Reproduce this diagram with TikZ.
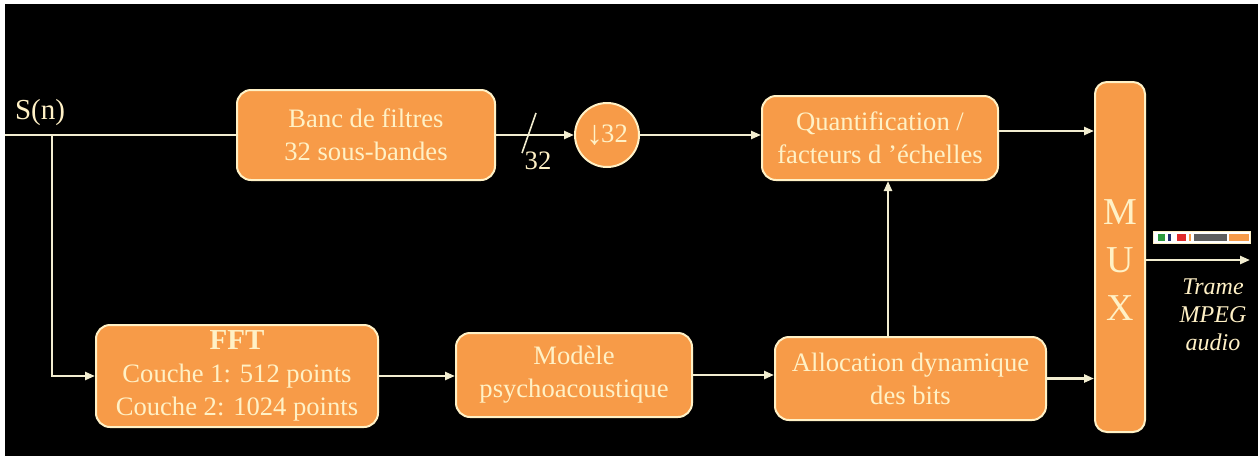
\documentclass[tikz,border=0pt]{standalone}
\usepackage{fontspec}
\setmainfont{Liberation Serif}
\usetikzlibrary{arrows.meta,calc}
\definecolor{boxor}{HTML}{F79B48}
\definecolor{cream}{HTML}{FFF1C6}
\definecolor{wline}{HTML}{F2EDD0}
\definecolor{bgreen}{HTML}{2E9A3E}
\definecolor{bnavy}{HTML}{1F2E6E}
\definecolor{bred}{HTML}{E02A2A}
\definecolor{bgray}{HTML}{5E5E5E}
\begin{document}
\begin{tikzpicture}[x=0.5pt,y=-0.5pt,
  blk/.style={draw=cream, line width=1pt, fill=boxor, rounded corners=7pt, text=cream, align=center, font=\rmfamily\fontsize{13.3}{16.5}\selectfont, inner sep=0pt},
  lbl/.style={text=cream, inner sep=0pt, font=\rmfamily\fontsize{13.3}{16.5}\selectfont},
  conn/.style={draw=wline, line width=1.2pt, -{Triangle[length=5pt,width=4pt]}},
  plainln/.style={draw=wline, line width=1.2pt}]
\fill[white] (0,0) rectangle (1258,456);
\fill[black] (5,4) rectangle (1258,456);
\useasboundingbox (0,0) rectangle (1258,456);

% boxes
\node[blk, minimum width=129pt, minimum height=45pt] (banc) at (366,135) {Banc de filtres\\32 sous-bandes};
\node[blk, circle, minimum size=32pt] (dec) at (607,135) {\raisebox{-1pt}{\fontsize{17}{17}\selectfont ↓}\kern-1pt 32};
\node[blk, minimum width=118pt, minimum height=42pt] (quant) at (880,138) {Quantification /\\facteurs d ’échelles};
\node[blk, minimum width=25pt, minimum height=175pt, rounded corners=6pt] (mux) at (1120,257) {};
\node[lbl, font=\rmfamily\fontsize{19}{19}\selectfont] (mM) at (1120,212) {M};
\node[lbl, font=\rmfamily\fontsize{19}{19}\selectfont] (mU) at (1120,260) {U};
\node[lbl, font=\rmfamily\fontsize{19}{19}\selectfont] (mX) at (1120,308) {X};
\node[blk, minimum width=141pt, minimum height=51pt] (fft) at (237,376) {{\bfseries\fontsize{14.5}{16.5}\selectfont FFT}\\Couche 1: 512 points\\Couche 2: 1024 points};
\node[blk, minimum width=118pt, minimum height=42pt] (mod) at (574,375) {Modèle\\psychoacoustique};
\node[blk, minimum width=135.5pt, minimum height=41.5pt] (alloc) at (910.5,378.5) {Allocation dynamique\\des bits};

% input
\node[lbl, font=\rmfamily\fontsize{14.5}{16}\selectfont] (sn) at (40,113) {S(n)};
\coordinate (sin) at (5,135);
\coordinate (br) at (52,135);
\draw[plainln] (sin) -- (banc.west);
\draw[conn] (br) |- (fft.west);

% top chain
\draw[conn] (banc.east) -- (dec.west);
\coordinate (s1) at (522,153);
\coordinate (s2) at (536,113);
\draw[plainln, line width=0.8pt] (s1) -- (s2);
\node[lbl] (n32) at (538,161) {32};
\draw[conn] (dec.east) -- (dec.east -| quant.west);
\coordinate (qo) at ($(quant.east)+(0,-7)$);
\draw[conn] (qo) -- (qo -| mux.west);

% bottom chain
\draw[conn] (fft.east) -- (fft.east -| mod.west);
\draw[conn] (mod.east) -- (mod.east -| alloc.west);
\coordinate (ux) at (888,0);
\draw[conn] (alloc.north -| ux) -- (quant.south -| ux);
\draw[conn] (alloc.east) -- (alloc.east -| mux.west);

% output
\coordinate (out) at (1250,260);
\draw[conn] (mux.east |- out) -- (out);
\draw[draw=cream, fill=white, line width=0.5pt] (1153,231) rectangle (1250,243);
\fill[bgreen] (1158,233.5) rectangle (1165,240.5);
\fill[bnavy] (1168,233.5) rectangle (1171,240.5);
\fill[bred] (1177,233.5) rectangle (1186,240.5);
\fill[boxor] (1189,233.5) rectangle (1191,240.5);
\fill[bgray] (1194,233.5) rectangle (1227,240.5);
\fill[boxor] (1229,233.5) rectangle (1249,240.5);
\node[lbl, align=center, font=\rmfamily\itshape\fontsize{12}{14}\selectfont] (trame) at (1213,315) {Trame\\MPEG\\audio};
\end{tikzpicture}
\end{document}
